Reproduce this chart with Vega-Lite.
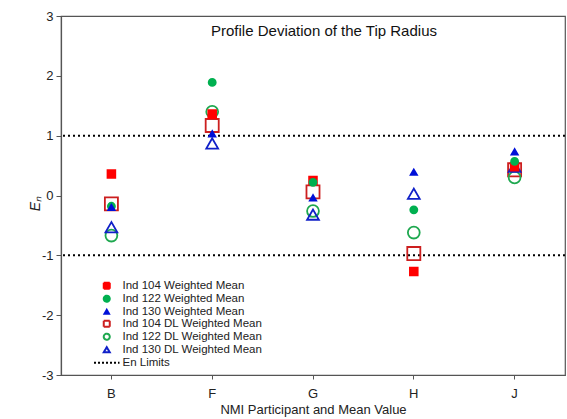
{
  "$schema": "https://vega.github.io/schema/vega-lite/v6.json",
  "width": 504,
  "height": 359,
  "autosize": "none",
  "padding": {"left": 61, "top": 16, "right": 2, "bottom": 44},
  "background": "white",
  "config": {
    "font": "Liberation Sans",
    "view": {"stroke": "#555555", "strokeWidth": 1.2},
    "axis": {
      "grid": false,
      "domainColor": "#555555",
      "domainWidth": 1.2,
      "tickColor": "#555555",
      "labelColor": "#222222",
      "titleColor": "#222222",
      "labelFont": "Liberation Sans",
      "titleFont": "Liberation Sans",
      "titleFontWeight": "normal",
      "labelFontSize": 13,
      "titleFontSize": 13
    },
    "legend": {
      "labelFont": "Liberation Sans",
      "labelFontSize": 11.5,
      "labelColor": "#222222"
    }
  },
  "title": {
    "text": "Profile Deviation of the Tip Radius",
    "anchor": "middle",
    "orient": "top",
    "offset": -29,
    "dx": 11,
    "fontSize": 15,
    "fontWeight": "normal",
    "color": "#111111",
    "font": "Liberation Sans"
  },
  "datasets": {
    "points": [
      {"series": "Ind 104 DL Weighted Mean", "participant": "B", "En": -0.14},
      {"series": "Ind 104 DL Weighted Mean", "participant": "F", "En": 1.17},
      {"series": "Ind 104 DL Weighted Mean", "participant": "G", "En": 0.06},
      {"series": "Ind 104 DL Weighted Mean", "participant": "H", "En": -0.97},
      {"series": "Ind 104 DL Weighted Mean", "participant": "J", "En": 0.43},
      {"series": "Ind 122 DL Weighted Mean", "participant": "B", "En": -0.67},
      {"series": "Ind 122 DL Weighted Mean", "participant": "F", "En": 1.4},
      {"series": "Ind 122 DL Weighted Mean", "participant": "G", "En": -0.26},
      {"series": "Ind 122 DL Weighted Mean", "participant": "H", "En": -0.62},
      {"series": "Ind 122 DL Weighted Mean", "participant": "J", "En": 0.3},
      {"series": "Ind 130 DL Weighted Mean", "participant": "B", "En": -0.53},
      {"series": "Ind 130 DL Weighted Mean", "participant": "F", "En": 0.87},
      {"series": "Ind 130 DL Weighted Mean", "participant": "G", "En": -0.32},
      {"series": "Ind 130 DL Weighted Mean", "participant": "H", "En": 0.03},
      {"series": "Ind 130 DL Weighted Mean", "participant": "J", "En": 0.48},
      {"series": "Ind 104 Weighted Mean", "participant": "B", "En": 0.36},
      {"series": "Ind 104 Weighted Mean", "participant": "F", "En": 1.36},
      {"series": "Ind 104 Weighted Mean", "participant": "G", "En": 0.25},
      {"series": "Ind 104 Weighted Mean", "participant": "H", "En": -1.27},
      {"series": "Ind 104 Weighted Mean", "participant": "J", "En": 0.48},
      {"series": "Ind 122 Weighted Mean", "participant": "B", "En": -0.18},
      {"series": "Ind 122 Weighted Mean", "participant": "F", "En": 1.89},
      {"series": "Ind 122 Weighted Mean", "participant": "G", "En": 0.22},
      {"series": "Ind 122 Weighted Mean", "participant": "H", "En": -0.24},
      {"series": "Ind 122 Weighted Mean", "participant": "J", "En": 0.57},
      {"series": "Ind 130 Weighted Mean", "participant": "B", "En": -0.2},
      {"series": "Ind 130 Weighted Mean", "participant": "F", "En": 1.03},
      {"series": "Ind 130 Weighted Mean", "participant": "G", "En": -0.04},
      {"series": "Ind 130 Weighted Mean", "participant": "H", "En": 0.39},
      {"series": "Ind 130 Weighted Mean", "participant": "J", "En": 0.73}
    ],
    "limits": [
      {"series": "En Limits", "En": 1},
      {"series": "En Limits", "En": -1}
    ]
  },
  "layer": [
    {
      "data": {"name": "limits"},
      "mark": {"type": "rule", "strokeDash": [2, 3], "strokeWidth": 2},
      "encoding": {
        "y": {
          "field": "En",
          "type": "quantitative",
          "scale": {"domain": [-3, 3], "nice": false, "zero": false},
          "axis": {
            "title": "Eₙ",
            "titleFontStyle": "italic",
            "titleFontSize": 14,
            "titleAngle": -90,
            "titleX": -26,
            "titleY": 187,
            "titleAlign": "center",
            "titleBaseline": "middle",
            "values": [-3, -2.5, -2, -1.5, -1, -0.5, 0, 0.5, 1, 1.5, 2, 2.5, 3],
            "labelExpr": "datum.value % 1 === 0 ? '' + datum.value : ''",
            "tickSize": {"condition": {"test": "datum.value % 1 !== 0", "value": 3}, "value": 5},
            "labelPadding": 3
          }
        },
        "stroke": {
          "field": "series",
          "type": "nominal",
          "scale": {
            "domain": ["Ind 104 Weighted Mean", "Ind 122 Weighted Mean", "Ind 130 Weighted Mean", "Ind 104 DL Weighted Mean", "Ind 122 DL Weighted Mean", "Ind 130 DL Weighted Mean", "En Limits"],
            "range": ["#ff0000", "#00b050", "#0010d8", "#cc1f1f", "#1ea84f", "#1020c8", "#000000"]
          },
          "legend": {
            "title": null,
            "orient": "none",
            "legendX": 40,
            "legendY": 264,
            "padding": 0,
            "symbolSize": 40,
            "symbolStrokeWidth": 2,
            "rowPadding": -2,
            "labelOffset": 10,
            "encode": {
              "symbols": {
                "update": {
                  "size": {"signal": "datum.value === 'En Limits' ? 650 : datum.value === 'Ind 130 Weighted Mean' ? 20 : 36"},
                  "strokeDash": {"signal": "datum.value === 'En Limits' ? [2, 2] : [1, 0]"}
                }
              }
            }
          }
        }
      }
    },
    {
      "data": {"name": "points"},
      "mark": {"type": "point", "strokeWidth": 1.8, "opacity": 1},
      "encoding": {
        "x": {
          "field": "participant",
          "type": "nominal",
          "sort": null,
          "scale": {"type": "band", "domain": ["B", "F", "G", "H", "J"], "paddingInner": 0, "paddingOuter": 0},
          "axis": {
            "title": "NMI Participant and Mean Value",
            "labelAngle": 0,
            "tickSize": 4,
            "labelPadding": 8,
            "titlePadding": 3
          }
        },
        "y": {"field": "En", "type": "quantitative"},
        "shape": {
          "field": "series",
          "type": "nominal",
          "scale": {
            "domain": ["Ind 104 Weighted Mean", "Ind 122 Weighted Mean", "Ind 130 Weighted Mean", "Ind 104 DL Weighted Mean", "Ind 122 DL Weighted Mean", "Ind 130 DL Weighted Mean", "En Limits"],
            "range": ["square", "circle", "triangle-up", "square", "circle", "triangle-up", "stroke"]
          }
        },
        "fill": {
          "field": "series",
          "type": "nominal",
          "scale": {
            "domain": ["Ind 104 Weighted Mean", "Ind 122 Weighted Mean", "Ind 130 Weighted Mean", "Ind 104 DL Weighted Mean", "Ind 122 DL Weighted Mean", "Ind 130 DL Weighted Mean", "En Limits"],
            "range": ["#ff0000", "#00b050", "#0010d8", "transparent", "transparent", "transparent", "transparent"]
          }
        },
        "stroke": {"field": "series", "type": "nominal"},
        "size": {
          "field": "series",
          "type": "nominal",
          "scale": {
            "type": "ordinal",
            "domain": ["Ind 104 Weighted Mean", "Ind 122 Weighted Mean", "Ind 130 Weighted Mean", "Ind 104 DL Weighted Mean", "Ind 122 DL Weighted Mean", "Ind 130 DL Weighted Mean"],
            "range": [60, 50, 40, 170, 140, 140]
          },
          "legend": null
        }
      }
    }
  ]
}
